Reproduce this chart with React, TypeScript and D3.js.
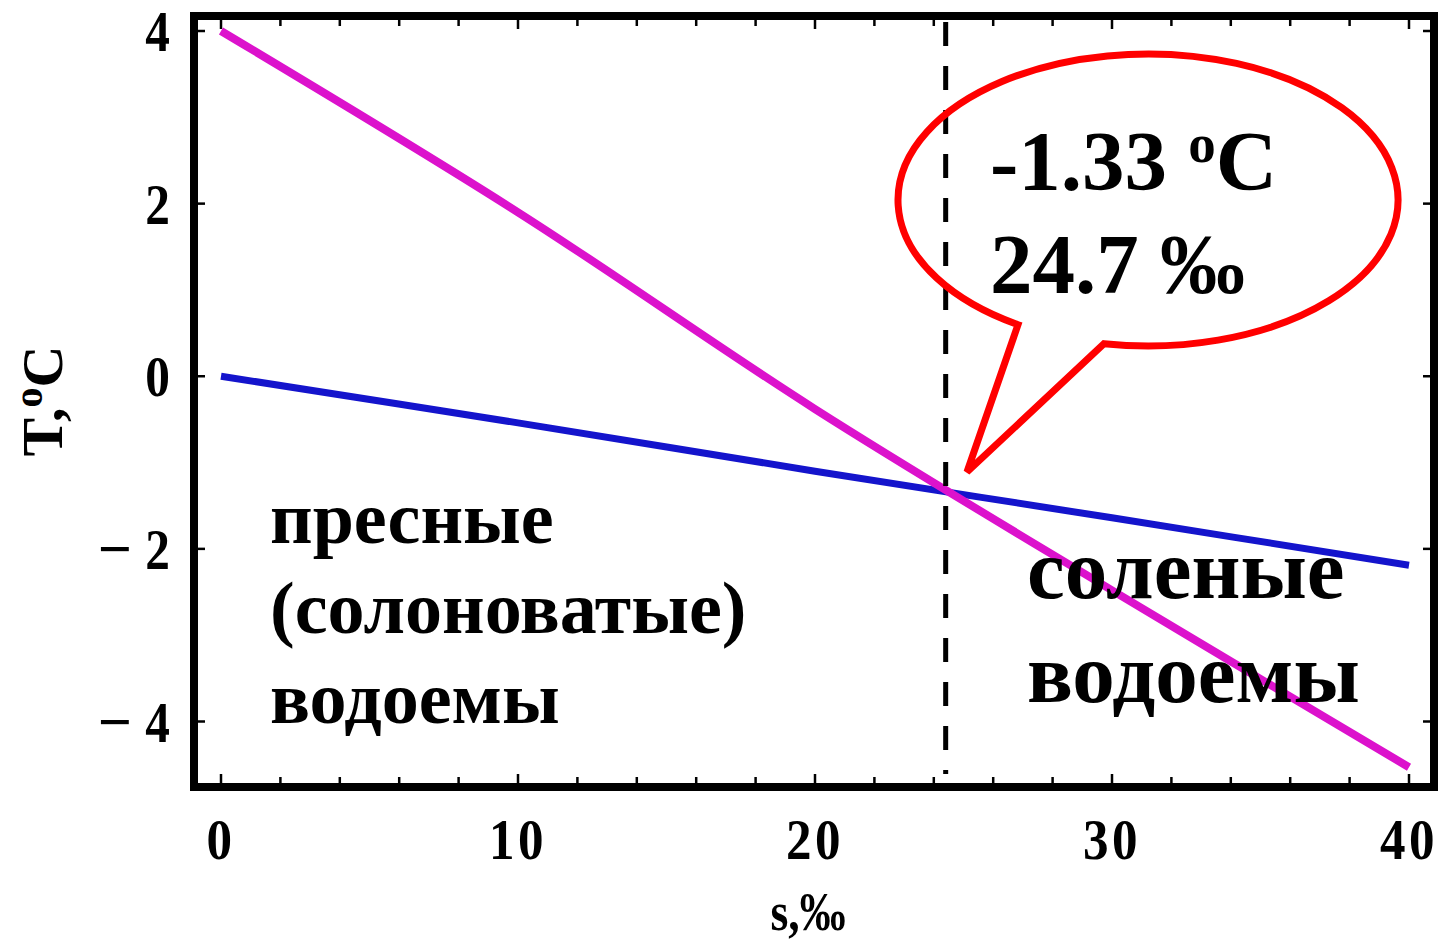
import React from "react";
import * as d3 from "d3";

// ---- data ----
const salinity = [0, 10, 20, 30, 40];
const maxDensityTemp = [4.0, 1.9, -0.38, -2.48, -4.53];
const freezingTemp = [0, -0.54, -1.1, -1.64, -2.19];
const crossingSalinity = 24.4;
const xTickValues = [0, 10, 20, 30, 40];
const xMinorTicks = d3.range(0, 41, 2);
const yTickValues = [4, 2, 0, -2, -4];
const calloutLines = ["-1.33 ", "24.7 ‰"];
const leftRegion = ["пресные", "(солоноватые)", "водоемы"];
const rightRegion = ["соленые", "водоемы"];

const W = 1438;
const H = 943;
const FONT = "'Liberation Serif', 'Times New Roman', serif";

export default function App() {
  const x = d3.scaleLinear().domain([0, 40]).range([221, 1409]);
  const y = d3.scaleLinear().domain([-4, 4]).range([721.5, 31]);

  const frame = { left: 194, right: 1434, top: 16, bottom: 787 };
  const bw = 8;

  const line = d3
    .line<number>()
    .x((_, i) => x(salinity[i]))
    .y((d) => y(d))
    .curve(d3.curveCatmullRom.alpha(0.5));

  // callout geometry
  const cx = 1148, cy = 200, rx = 250, ry = 146;
  const baseL = 1018, baseR = 1104;
  const tip = [967, 472];
  const pt = (bx: number) => {
    const dx = bx - cx;
    const dy = ry * Math.sqrt(1 - (dx / rx) ** 2);
    return [bx, cy + dy];
  };
  const pL = pt(baseL);
  const pR = pt(baseR);
  const calloutPath = `M ${pR[0]} ${pR[1]} A ${rx} ${ry} 0 1 0 ${pL[0]} ${pL[1]} L ${tip[0]} ${tip[1]} Z`;

  const inner = {
    left: frame.left + bw / 2,
    right: frame.right - bw / 2,
    top: frame.top + bw / 2,
    bottom: frame.bottom - bw / 2,
  };

  return (
    <svg
      width={W}
      height={H}
      style={{ position: "absolute", left: 0, top: 0, background: "#fff" }}
      fontFamily={FONT}
    >
      <rect x={0} y={0} width={W} height={H} fill="#fff" />

      {/* ticks */}
      {xMinorTicks.map((v) => {
        const len = v % 10 === 0 ? 9 : 6;
        return (
          <g key={"xt" + v} stroke="#000" strokeWidth={2.5}>
            <line x1={x(v)} x2={x(v)} y1={inner.bottom} y2={inner.bottom - len} />
            <line x1={x(v)} x2={x(v)} y1={inner.top} y2={inner.top + len} />
          </g>
        );
      })}
      {yTickValues.map((v) => (
        <g key={"yt" + v} stroke="#000" strokeWidth={2.5}>
          <line x1={inner.left} x2={inner.left + 7} y1={y(v)} y2={y(v)} />
          <line x1={inner.right} x2={inner.right - 7} y1={y(v)} y2={y(v)} />
        </g>
      ))}

      {/* curves */}
      <path d={line(freezingTemp) || ""} fill="none" stroke="#1414cc" strokeWidth={7} />
      <path d={line(maxDensityTemp) || ""} fill="none" stroke="#dc12cc" strokeWidth={8} />

      {/* dashed vertical */}
      <line
        x1={x(crossingSalinity)}
        x2={x(crossingSalinity)}
        y1={inner.top + 2}
        y2={inner.bottom - 9}
        stroke="#000"
        strokeWidth={5}
        strokeDasharray="24 20"
      />

      {/* frame */}
      <rect
        x={frame.left}
        y={frame.top}
        width={frame.right - frame.left}
        height={frame.bottom - frame.top}
        fill="none"
        stroke="#000"
        strokeWidth={bw}
      />

      {/* callout */}
      <path d={calloutPath} fill="none" stroke="#ff0000" strokeWidth={7} strokeLinejoin="miter" />
      <text x={990} y={190} fontSize={85} fontWeight="bold" fill="#000">
        {calloutLines[0]}
        <tspan fontSize={55} dy={-28}>o</tspan>
        <tspan dy={28}>C</tspan>
      </text>
      <text x={990} y={293} fontSize={85} fontWeight="bold" fill="#000">
        {calloutLines[1]}
      </text>

      {/* region labels */}
      {leftRegion.map((t, i) => (
        <text key={"l" + i} x={270} y={543 + i * 90} fontSize={74} fontWeight="bold" fill="#000">
          {t}
        </text>
      ))}
      {rightRegion.map((t, i) => (
        <text key={"r" + i} x={1027} y={598 + i * 104} fontSize={85} fontWeight="bold" fill="#000">
          {t}
        </text>
      ))}

      {/* x tick labels */}
      {xTickValues.map((v) => (
        <text
          key={"xl" + v}
          transform={`translate(${x(v)},859) scale(0.88,1)`}
          textAnchor="middle"
          fontSize={58}
          fontWeight="bold"
          letterSpacing={4}
          fill="#000"
        >
          {v}
        </text>
      ))}
      {/* y tick labels */}
      {yTickValues.map((v) => (
        <g key={"yl" + v}>
          <text
            transform={`translate(170,${y(v) + 20}) scale(0.85,1)`}
            textAnchor="end"
            fontSize={58}
            fontWeight="bold"
            fill="#000"
          >
            {String(Math.abs(v))}
          </text>
          {v < 0 && (
            <text
              x={132}
              y={y(v) + 20}
              textAnchor="end"
              fontSize={60}
              fontWeight="bold"
              fill="#000"
            >
              {"\u2212"}
            </text>
          )}
        </g>
      ))}

      {/* axis titles */}
      <text
        transform={`translate(808,930) scale(0.85,1)`}
        textAnchor="middle"
        fontSize={54}
        fontWeight="bold"
        fill="#000"
      >
        s,‰
      </text>
      <text
        transform={`translate(62,401) rotate(-90)`}
        textAnchor="middle"
        fontSize={58}
        fontWeight="bold"
        fill="#000"
      >
        T,<tspan fontSize={40} dy={-20}>o</tspan>
        <tspan dy={20}>C</tspan>
      </text>
    </svg>
  );
}
